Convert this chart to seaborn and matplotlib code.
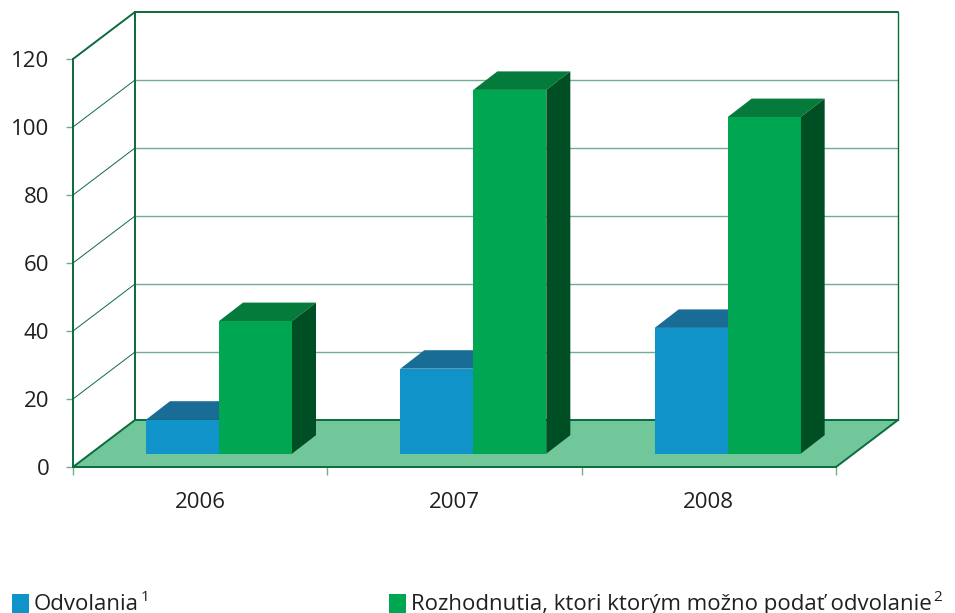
import pandas as pd
import seaborn as sns
import matplotlib.pyplot as plt
from matplotlib.patches import Polygon, Rectangle

# values
roky = ['2006', '2007', '2008']
odvolania = [10, 25, 37]
rozhodnutia = [39, 107, 99]
y_ticks = [0, 20, 40, 60, 80, 100, 120]

lab_odv = 'Odvolania'
lab_roz = 'Rozhodnutia, ktori ktorým možno podať odvolanie'

# colours
BLUE, BLUE_TOP = '#1093c8', '#196c96'
GREEN, GREEN_TOP, GREEN_SIDE = '#00a651', '#047a3b', '#004f24'
FLOOR = '#72c79a'
LINE = '#0a6b3d'
GRID = '#6fae90'
TXT = '#231f20'

df = pd.DataFrame({
    'rok': roky * 2,
    'typ': [lab_odv] * 3 + [lab_roz] * 3,
    'hodnota': odvolania + rozhodnutia,
})

sns.set_style('white')
plt.rcParams['font.family'] = ['Open Sans', 'DejaVu Sans']

W, H = 955, 613
fig = plt.figure(figsize=(W / 100, H / 100), dpi=100)
ax = fig.add_axes([73 / W, (H - 467) / H, 763 / W, 408 / H])
ax.patch.set_alpha(0)

cat_px = 763 / 3
y_px = 408 / 120
# depth of the box and of the bars, in data units
DX, DY = 62 / cat_px, 47 / y_px
bar_dx, bar_dy = 24 / cat_px, 18.5 / y_px
base = 13.3 / y_px

sns.barplot(data=df, x='rok', y='hodnota', hue='typ', palette=[BLUE, GREEN],
            width=146 / cat_px, gap=0, saturation=1, legend=False,
            bottom=base, linewidth=0, zorder=3, ax=ax)

x0 = -146 / cat_px
x1 = x0 + 3
ax.set_xlim(x0, x1)
ax.set_ylim(0, 120)

# floor and back wall
ax.add_patch(Polygon([(x0, 0), (x1, 0), (x1 + DX, DY), (x0 + DX, DY)], closed=True,
                     fc=FLOOR, ec='none', clip_on=False, zorder=1))
for v in y_ticks[1:-1]:
    ax.plot([x0 + DX, x1 + DX], [v + DY, v + DY], color=GRID, lw=1.0, clip_on=False, zorder=0.5)
    ax.plot([x0, x0 + DX], [v, v + DY], color=LINE, lw=0.7, clip_on=False, zorder=0.5)

for xs, ys, lw in [
    ([x0 + DX, x1 + DX], [120 + DY, 120 + DY], 1.4),
    ([x0 + DX, x0 + DX], [DY, 120 + DY], 1.4),
    ([x1 + DX, x1 + DX], [DY, 120 + DY], 1.0),
    ([x0, x0 + DX], [120, 120 + DY], 1.4),
    ([x0, x0 + DX], [0, DY], 1.4),
    ([x1, x1 + DX], [0, DY], 1.4),
    ([x0 + DX, x1 + DX], [DY, DY], 1.4),
]:
    ax.plot(xs, ys, color=LINE, lw=lw, clip_on=False, zorder=1.5, solid_capstyle='round')

# top and side faces taken from the bars seaborn drew
for bar in ax.patches:
    if not isinstance(bar, Rectangle):
        continue
    is_blue = bar.get_facecolor()[2] > 0.5
    l, r = bar.get_x(), bar.get_x() + bar.get_width()
    b, t = bar.get_y(), bar.get_y() + bar.get_height()
    top = BLUE_TOP if is_blue else GREEN_TOP
    side = BLUE_TOP if is_blue else GREEN_SIDE
    ax.add_patch(Polygon([(l, t), (r, t), (r + bar_dx, t + bar_dy), (l + bar_dx, t + bar_dy)],
                         closed=True, fc=top, ec='none', clip_on=False, zorder=2.5))
    ax.add_patch(Polygon([(r, b), (r + bar_dx, b + bar_dy), (r + bar_dx, t + bar_dy), (r, t)],
                         closed=True, fc=side, ec='none', clip_on=False, zorder=2.5))

sns.despine(ax=ax, top=True, right=True)
for s in ['left', 'bottom']:
    ax.spines[s].set_color(LINE)
    ax.spines[s].set_linewidth(1.4)
    ax.spines[s].set_zorder(2)

ax.set_xlabel('')
ax.set_ylabel('')
ax.set_yticks(y_ticks)
ax.tick_params(axis='y', length=5, width=1, color=GRID, pad=12, labelsize=16, labelcolor=TXT, left=True)

# year labels sit in the front plane, ticks mark the category edges
ax.set_xticks([x0 + 0.5 + i for i in range(3)])
ax.set_xticklabels(roky)
ax.tick_params(axis='x', length=0, pad=18, labelsize=16, labelcolor=TXT)
ax.set_xticks([x0 + i for i in range(4)], minor=True)
ax.tick_params(axis='x', which='minor', length=5.5, width=1, color=GRID, bottom=True)

# legend, cut by the lower edge as in the original
for px, col, lab, sup in [(12, BLUE, lab_odv, '1'), (389, GREEN, lab_roz, '2')]:
    fig.patches.append(Rectangle((px / W, 0), 17 / W, 19 / H, transform=fig.transFigure,
                                 fc=col, ec='none', figure=fig))
    t = fig.text((px + 22) / W, 3 / H, lab, fontsize=16, color=TXT, ha='left', va='baseline')
    ax.annotate(sup, xy=(1, 0), xycoords=t, xytext=(1, 10), textcoords='offset points',
                fontsize=11, color=TXT, ha='left', va='baseline', annotation_clip=False)

fig.savefig('out.png', dpi=100, facecolor='white')
